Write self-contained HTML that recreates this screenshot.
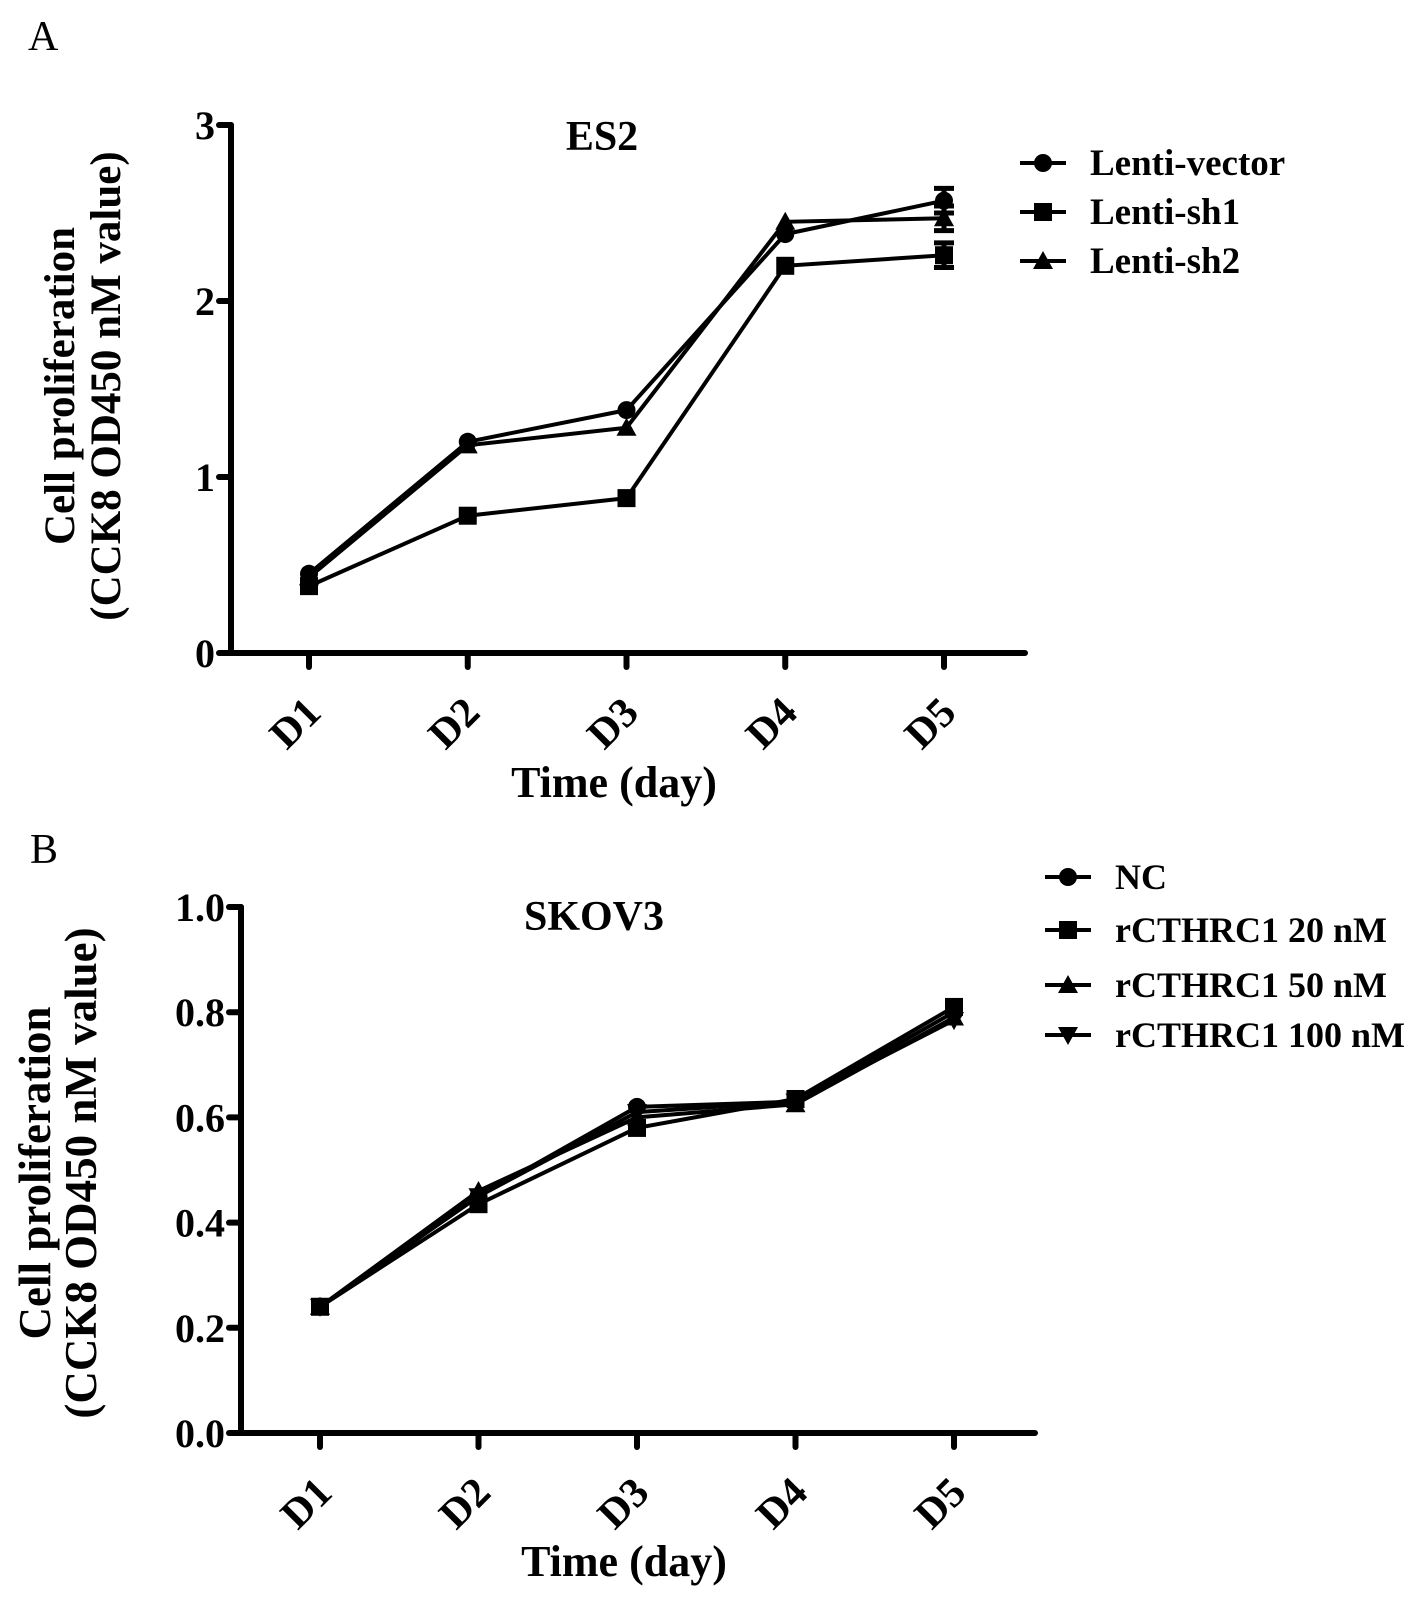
<!DOCTYPE html>
<html><head><meta charset="utf-8"><style>
body{margin:0;background:#fff}
svg{display:block;font-family:"Liberation Serif",serif;font-weight:bold}
</style></head><body>
<svg id="s" width="1417" height="1598" viewBox="0 0 1417 1598" xmlns="http://www.w3.org/2000/svg">
<text x="28" y="50" font-size="42" font-weight="normal">A</text>
<text x="30" y="863" font-size="42" font-weight="normal">B</text>
</svg>
<script>
const categories=["D1","D2","D3","D4","D5"];
const aTicks=[0,1,2,3];
const aVector=[0.45,1.2,1.38,2.38,2.57];
const aSh1=[0.38,0.78,0.88,2.2,2.26];
const aSh2=[0.43,1.18,1.28,2.45,2.47];
const aErr=[0,0,0,0,0.07];
const bTicks=[0,0.2,0.4,0.6,0.8,1.0];
const bNC=[0.24,0.45,0.62,0.63,0.80];
const b20=[0.24,0.435,0.58,0.635,0.81];
const b50=[0.24,0.46,0.60,0.625,0.79];
const b100=[0.24,0.45,0.61,0.63,0.785];
const aNames=["Lenti-vector","Lenti-sh1","Lenti-sh2"];
const bNames=["NC","rCTHRC1 20 nM","rCTHRC1 50 nM","rCTHRC1 100 nM"];

const NS="http://www.w3.org/2000/svg", svg=document.getElementById('s');
function mk(t,a,p){const e=document.createElementNS(NS,t);for(const k in a)e.setAttribute(k,a[k]);(p||svg).appendChild(e);return e;}
function marker(type,x,y,g){
  if(type==='c') return mk('circle',{cx:x,cy:y,r:9,fill:'#000'},g);
  if(type==='s') return mk('rect',{x:x-9,y:y-9,width:18,height:18,fill:'#000'},g);
  if(type==='t') return mk('polygon',{points:`${x},${y-10} ${x+10},${y+8} ${x-10},${y+8}`,fill:'#000'},g);
  return mk('polygon',{points:`${x},${y+10} ${x+10},${y-8} ${x-10},${y-8}`,fill:'#000'},g);
}
function panel(o){
  const g=mk('g',{});
  
  
  const ymax=o.ticks[o.ticks.length-1];
  const X=i=>o.x1+i*(o.x5-o.x1)/(categories.length-1);
  const Y=v=>o.y0-v/ymax*(o.y0-o.ytop);
  const ax=mk('path',{d:`M${o.ax},${o.ytop} V${o.y0} H${o.xend}`,stroke:'#000','stroke-width':6,fill:'none','stroke-linecap':'round'},g);
  
  
  o.ticks.forEach(t=>{
    mk('line',{x1:o.ax-12,x2:o.ax,y1:Y(t),y2:Y(t),stroke:'#000','stroke-width':6,'stroke-linecap':'round'},g);
    const tx=mk('text',{x:o.ax-16,y:Y(t)+14,'font-size':40,'text-anchor':'end'},g);
    tx.textContent=o.fmt(t);
    
    
  });
  categories.forEach((c,i)=>{
    mk('line',{x1:X(i),x2:X(i),y1:o.y0,y2:o.y0+14,stroke:'#000','stroke-width':6,'stroke-linecap':'round'},g);
    const cx=X(i)-14, cy=o.y0+70;
    const tx=mk('text',{x:cx,y:cy+14,'font-size':42,'text-anchor':'middle',transform:`rotate(-45 ${cx} ${cy})`},g);
    tx.textContent=c;
    
    
  });
  o.series.forEach((s,si)=>{
    const sg=mk('g',{},g);
    
    
    const pl=mk('polyline',{points:s.v.map((v,i)=>X(i)+','+Y(v)).join(' '),fill:'none',stroke:'#000','stroke-width':4},sg);
    
    
    s.v.forEach((v,i)=>{
      const e=(o.err||[])[i]||0;
      if(e){mk('path',{d:`M${X(i)-10},${Y(v+e)} H${X(i)+10} M${X(i)},${Y(v+e)} V${Y(v-e)} M${X(i)-10},${Y(v-e)} H${X(i)+10}`,stroke:'#000','stroke-width':5},sg);}
      const m=marker(s.m,X(i),Y(v),sg);
      
      
    });
    const ly=o.legY[si];
    const lg=mk('g',{},g);
    
    
    mk('line',{x1:o.legX,x2:o.legX+46,y1:ly,y2:ly,stroke:'#000','stroke-width':4},lg);
    marker(s.m,o.legX+23,ly,lg);
    const lt=mk('text',{x:o.legX+70,y:ly+12,'font-size':o.legFs},lg);
    lt.textContent=s.label;
  });
  const tt=mk('text',{x:o.titleX,y:o.titleY,'font-size':42,'text-anchor':'middle'},g);
  tt.textContent=o.title;
  
  
  const xt=mk('text',{x:o.xtX,y:o.xtY,'font-size':44,'text-anchor':'middle'},g);
  xt.textContent='Time (day)';
  
  
  const yt=mk('text',{'font-size':o.ytFs,'text-anchor':'middle',transform:`translate(${o.ytX},${o.ytY}) rotate(-90)`},g);
  
  
  mk('tspan',{x:0,y:0},yt).textContent='Cell proliferation';
  mk('tspan',{x:0,y:46},yt).textContent='(CCK8 OD450 nM value)';
}
panel({name:'panel-a-chart',ticks:aTicks,fmt:t=>String(t),ax:231,ytop:125,y0:653,xend:1025,x1:309,x5:944,err:aErr,
  series:[{key:'lenti-vector',label:aNames[0],v:aVector,m:'c'},{key:'lenti-sh1',label:aNames[1],v:aSh1,m:'s'},{key:'lenti-sh2',label:aNames[2],v:aSh2,m:'t'}],
  legX:1020,legY:[163,212,261],legFs:37,title:'ES2',titleX:602,titleY:150,xtX:614,xtY:797,ytX:74,ytY:386,ytFs:43});
panel({name:'panel-b-chart',ticks:bTicks,fmt:t=>t.toFixed(1),ax:241,ytop:907,y0:1433,xend:1035,x1:320,x5:954,
  series:[{key:'nc',label:bNames[0],v:bNC,m:'c'},{key:'rcthrc1-20',label:bNames[1],v:b20,m:'s'},{key:'rcthrc1-50',label:bNames[2],v:b50,m:'t'},{key:'rcthrc1-100',label:bNames[3],v:b100,m:'v'}],
  legX:1045,legY:[877,930,985,1035],legFs:36,title:'SKOV3',titleX:594,titleY:930,xtX:624,xtY:1576,ytX:50,ytY:1173,ytFs:45});
</script>
</body></html>
